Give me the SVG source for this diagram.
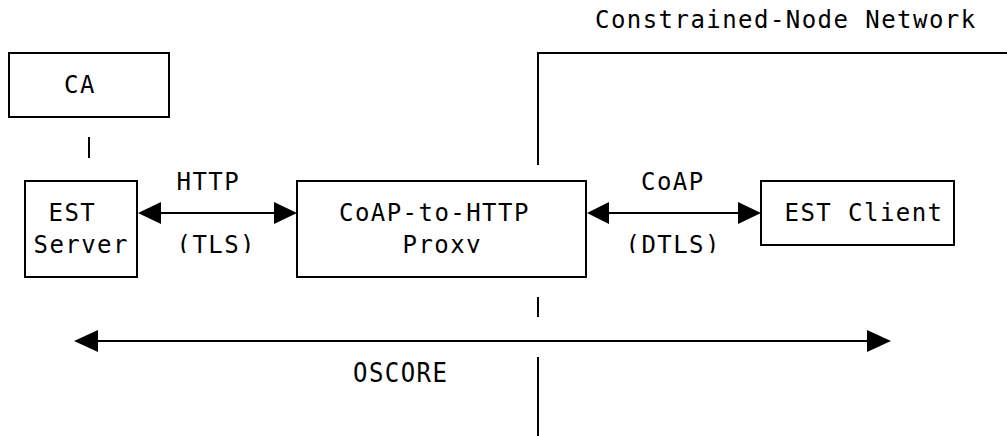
<svg xmlns="http://www.w3.org/2000/svg" width="1007" height="436" viewBox="0 0 1007 436">
  <style>
    .box { fill: #ffffff; stroke: #000000; stroke-width: 2; }
    .ln { fill: none; stroke: #000000; stroke-width: 2; }
    .ah { fill: #000000; stroke: none; }
    text { font-family: "DejaVu Sans Mono", "Liberation Mono", monospace; font-size: 24px; letter-spacing: 1.45px; fill: #000000; }
  </style>
  <defs>
    <clipPath id="row2">
      <rect x="0" y="0" width="1007" height="253"/>
    </clipPath>
  </defs>
  <rect width="1007" height="436" fill="#ffffff"/>

  <g id="network-boundary">
    <text x="595" y="28">Constrained-Node Network</text>
    <polyline class="ln" points="538,165 538,53 1007,53"/>
    <line class="ln" x1="538" y1="297" x2="538" y2="317"/>
    <line class="ln" x1="538" y1="357" x2="538" y2="436"/>
  </g>

  <g id="ca">
    <rect class="box" x="9" y="53" width="160" height="64"/>
    <text x="64" y="93">CA</text>
  </g>

  <g id="est-server">
    <rect class="box" x="25" y="181" width="112" height="96"/>
    <text x="48.5" y="221">EST</text>
    <text x="33.5" y="253" clip-path="url(#row2)">Server</text>
  </g>

  <g id="proxy">
    <rect class="box" x="297" y="181" width="289" height="96"/>
    <text x="339" y="221">CoAP-to-HTTP</text>
    <text x="402.5" y="253" clip-path="url(#row2)">Proxy</text>
  </g>

  <g id="est-client">
    <rect class="box" x="761" y="181" width="193" height="64"/>
    <text x="784.5" y="221">EST Client</text>
  </g>

  <g id="connectors">
    <line class="ln" x1="89" y1="137" x2="89" y2="158"/>
    <!-- HTTP -->
    <line class="ln" x1="160" y1="213" x2="274" y2="213"/>
    <polygon class="ah" points="138,213 161,202 161,224"/>
    <polygon class="ah" points="297,213 274,202 274,224"/>
    <text x="176.5" y="190">HTTP</text>
    <text x="176.5" y="253" clip-path="url(#row2)">(TLS)</text>
    <!-- CoAP -->
    <line class="ln" x1="608" y1="213" x2="739" y2="213"/>
    <polygon class="ah" points="587,213 609,202 609,224"/>
    <polygon class="ah" points="761,213 738,202 738,224"/>
    <text x="641" y="190">CoAP</text>
    <text x="625.5" y="253" clip-path="url(#row2)">(DTLS)</text>
    <!-- OSCORE -->
    <line class="ln" x1="97" y1="341" x2="868" y2="341"/>
    <polygon class="ah" points="74,341 98,330 98,352"/>
    <polygon class="ah" points="891,341 867,330 867,352"/>
    <text transform="translate(353,382) scale(1,1.12)" x="0" y="0">OSCORE</text>
  </g>
</svg>
